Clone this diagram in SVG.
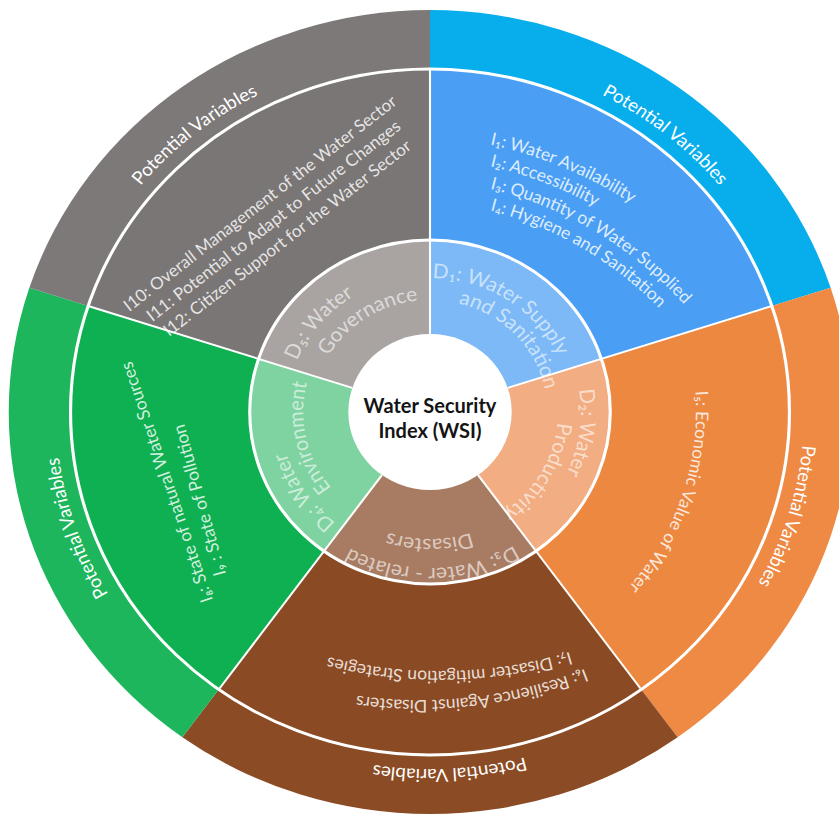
<svg xmlns="http://www.w3.org/2000/svg" width="839" height="819" viewBox="0 0 839 819">
<style>
.pv{font-family:Lato,"Noto Sans","Liberation Sans",sans-serif;font-size:18px;fill:#ffffff}
.mid{font-family:Lato,"Noto Sans","Liberation Sans",sans-serif;font-size:17px;fill:#ffffff;fill-opacity:.82}
.m18{font-size:17.5px}
.dd{font-family:Lato,"Noto Sans","Liberation Sans",sans-serif;font-size:20px;fill:#ffffff;fill-opacity:.6}
.ctr{font-family:Lato,"Noto Sans","Liberation Sans",sans-serif;font-size:20px;font-weight:bold;fill:#141414}
.ring{fill:none;stroke:#ffffff;stroke-width:3}
.sep{stroke:#ffffff;stroke-width:2}
</style>
<defs>
<path id="pv-gray" d="M-333.3 -127.9 A357 357 0 0 1 -55.8 -352.6"/>
<path id="pv-blue" d="M55.8 -352.6 A357 357 0 0 1 333.3 -127.9"/>
<path id="pv-orange" d="M347.9 -80.3 A357 357 0 0 1 243.5 261.1"/>
<path id="pv-brown" d="M194.4 299.4 A357 357 0 0 1 -162.1 318.1"/>
<path id="pv-green" d="M-234.2 269.4 A357 357 0 0 1 -350.4 -68.1"/>
<path id="d5a" d="M-127.0 -51.3 A137 137 0 0 1 -23.8 -134.9"/>
<path id="d5b" d="M-97.0 -56.0 A112 112 0 0 1 -3.9 -111.9"/>
<path id="d1a" d="M2.3 -134.0 A134 134 0 0 1 129.4 -34.7"/>
<path id="d1b" d="M27.1 -108.7 A112 112 0 0 1 110.3 -19.4"/>
<path id="d2a" d="M142.2 -22.5 A144 144 0 0 1 92.6 110.3"/>
<path id="d2b" d="M121.5 10.6 A122 122 0 0 1 61.0 105.7"/>
<path id="d3a" d="M80.3 133.7 A156 156 0 0 1 -89.5 127.8"/>
<path id="d3b" d="M39.2 120.8 A127 127 0 0 1 -53.7 115.1"/>
<path id="d4a" d="M-90.0 111.1 A143 143 0 0 1 -140.8 -24.8"/>
<path id="d4b" d="M-94.0 76.1 A121 121 0 0 1 -113.7 -41.4"/>
<path id="b1" d="M490 144.6 A425 425 0 0 1 810.5 450.0"/>
<path id="b2" d="M490 166.2 A404 404 0 0 1 790.2 455.4"/>
<path id="b3" d="M490 188.8 A382 382 0 0 1 769.0 461.1"/>
<path id="b4" d="M490 210.4 A361 361 0 0 1 748.7 466.6"/>
<path id="o5" d="M695.4 391.4 A266 266 0 0 1 563 640.4"/>
<path id="r6" d="M585 668.7 A450 450 0 0 1 280 677.7"/>
<path id="r7" d="M570 651.8 A450 450 0 0 1 290 645.3"/>
</defs>

<g id="sector-blue">
<g transform="translate(430 412) scale(1.048 1)">
<path d="M0 0 L0 -402 A402 402 0 0 1 382.3 -124.2 Z" fill="#08aeec"/>
<path d="M0 0 L0 -343 A343 343 0 0 1 326.2 -106.0 Z" fill="#4a9ff4"/>
<path d="M0 0 L0 -172 A172 172 0 0 1 163.6 -53.1 Z" fill="#7cb9f6"/>
</g>
</g>
<g id="sector-orange">
<g transform="translate(430 412) scale(1.048 1)">
<path d="M0 0 L382.3 -124.2 A402 402 0 0 1 236.3 325.2 Z" fill="#ee8a44"/>
<path d="M0 0 L326.2 -106.0 A343 343 0 0 1 201.6 277.5 Z" fill="#ec8840"/>
<path d="M0 0 L163.6 -53.1 A172 172 0 0 1 101.1 139.1 Z" fill="#f2ad82"/>
</g>
</g>
<g id="sector-brown">
<g transform="translate(430 412) scale(1.048 1)">
<path d="M0 0 L236.3 325.2 A402 402 0 0 1 -236.3 325.2 Z" fill="#8b4b24"/>
<path d="M0 0 L201.6 277.5 A343 343 0 0 1 -201.6 277.5 Z" fill="#8a4a23"/>
<path d="M0 0 L101.1 139.1 A172 172 0 0 1 -101.1 139.1 Z" fill="#a87c63"/>
</g>
</g>
<g id="sector-green">
<g transform="translate(430 412) scale(1.048 1)">
<path d="M0 0 L-236.3 325.2 A402 402 0 0 1 -382.3 -124.2 Z" fill="#1db65c"/>
<path d="M0 0 L-201.6 277.5 A343 343 0 0 1 -326.2 -106.0 Z" fill="#0fb052"/>
<path d="M0 0 L-101.1 139.1 A172 172 0 0 1 -163.6 -53.1 Z" fill="#7ed3a1"/>
</g>
</g>
<g id="sector-gray">
<g transform="translate(430 412) scale(1.048 1)">
<path d="M0 0 L-382.3 -124.2 A402 402 0 0 1 0 -402 Z" fill="#7d7978"/>
<path d="M0 0 L-326.2 -106.0 A343 343 0 0 1 0 -343 Z" fill="#7a7675"/>
<path d="M0 0 L-163.6 -53.1 A172 172 0 0 1 0 -172 Z" fill="#a9a4a2"/>
</g>
</g>

<g id="connectors">
<g transform="translate(430 412) scale(1.048 1)">
<circle class="ring" r="343"/>
<circle class="ring" r="172"/>
<line class="sep" x1="0" y1="-78" x2="0" y2="-343"/>
<line class="sep" x1="74.2" y1="-24.1" x2="326.2" y2="-106.0"/>
<line class="sep" x1="45.9" y1="63.1" x2="201.6" y2="277.5"/>
<line class="sep" x1="-45.9" y1="63.1" x2="-201.6" y2="277.5"/>
<line class="sep" x1="-74.2" y1="-24.1" x2="-326.2" y2="-106.0"/>
</g>
</g>

<g id="pv-labels">
<g transform="translate(430 412) scale(1.048 1)">
<text class="pv" text-anchor="middle"><textPath href="#pv-gray" startOffset="50%">Potential Variables</textPath></text>
<text class="pv" text-anchor="middle"><textPath href="#pv-blue" startOffset="50%">Potential Variables</textPath></text>
<text class="pv" text-anchor="middle"><textPath href="#pv-orange" startOffset="50%">Potential Variables</textPath></text>
<text class="pv" text-anchor="middle"><textPath href="#pv-brown" startOffset="50%">Potential Variables</textPath></text>
<text class="pv" text-anchor="middle"><textPath href="#pv-green" startOffset="50%">Potential Variables</textPath></text>
</g>
</g>

<g id="d-labels">
<g transform="translate(430 412) scale(1.048 1)">
<text class="dd"><textPath href="#d5a">D₅: Water</textPath></text>
<text class="dd"><textPath href="#d5b">Governance</textPath></text>
<text class="dd"><textPath href="#d1a">D₁: Water Supply</textPath></text>
<text class="dd"><textPath href="#d1b">and Sanitation</textPath></text>
<text class="dd"><textPath href="#d2a">D₂: Water</textPath></text>
<text class="dd"><textPath href="#d2b">Productivity</textPath></text>
<text class="dd"><textPath href="#d3a">D₃: Water - related</textPath></text>
<text class="dd"><textPath href="#d3b">Disasters</textPath></text>
<text class="dd"><textPath href="#d4a">D₄: Water</textPath></text>
<text class="dd"><textPath href="#d4b">Environment</textPath></text>
</g>
</g>

<g id="i-labels">
<text class="mid" text-anchor="middle" textLength="340" lengthAdjust="spacingAndGlyphs" transform="translate(263.5 208) rotate(-37.8)">I10: Overall Management of the Water Sector</text>
<text class="mid" text-anchor="middle" textLength="316" lengthAdjust="spacingAndGlyphs" transform="translate(277.1 225.3) rotate(-37.8)">I11: Potential to Adapt to Future Changes</text>
<text class="mid" text-anchor="middle" textLength="308" lengthAdjust="spacingAndGlyphs" transform="translate(290.7 242.6) rotate(-37.8)">I12: Citizen Support for the Water Sector</text>
<text class="mid m18"><textPath href="#b1">I₁: Water Availability</textPath></text>
<text class="mid m18"><textPath href="#b2">I₂: Accessibility</textPath></text>
<text class="mid m18"><textPath href="#b3">I₃: Quantity of Water Supplied</textPath></text>
<text class="mid m18"><textPath href="#b4">I₄: Hygiene and Sanitation</textPath></text>
<text class="mid m18"><textPath href="#o5">I₅: Economic Value of Water</textPath></text>
<text class="mid m18"><textPath href="#r6">I₆: Resilience Against Disasters</textPath></text>
<text class="mid m18"><textPath href="#r7">I₇: Disaster mitigation Strategies</textPath></text>
<text class="mid m18" transform="translate(213 600) rotate(-108.8)">I₈: State of natural Water Sources</text>
<text class="mid m18" transform="translate(226 574) rotate(-105.5)">I₉ : State of Pollution</text>
</g>

<g id="center">
<ellipse cx="430" cy="412" rx="81.7" ry="78" fill="#ffffff"/>
<text class="ctr" x="430" y="413" text-anchor="middle">Water Security</text>
<text class="ctr" x="430" y="438" text-anchor="middle">Index (WSI)</text>
</g>
</svg>
